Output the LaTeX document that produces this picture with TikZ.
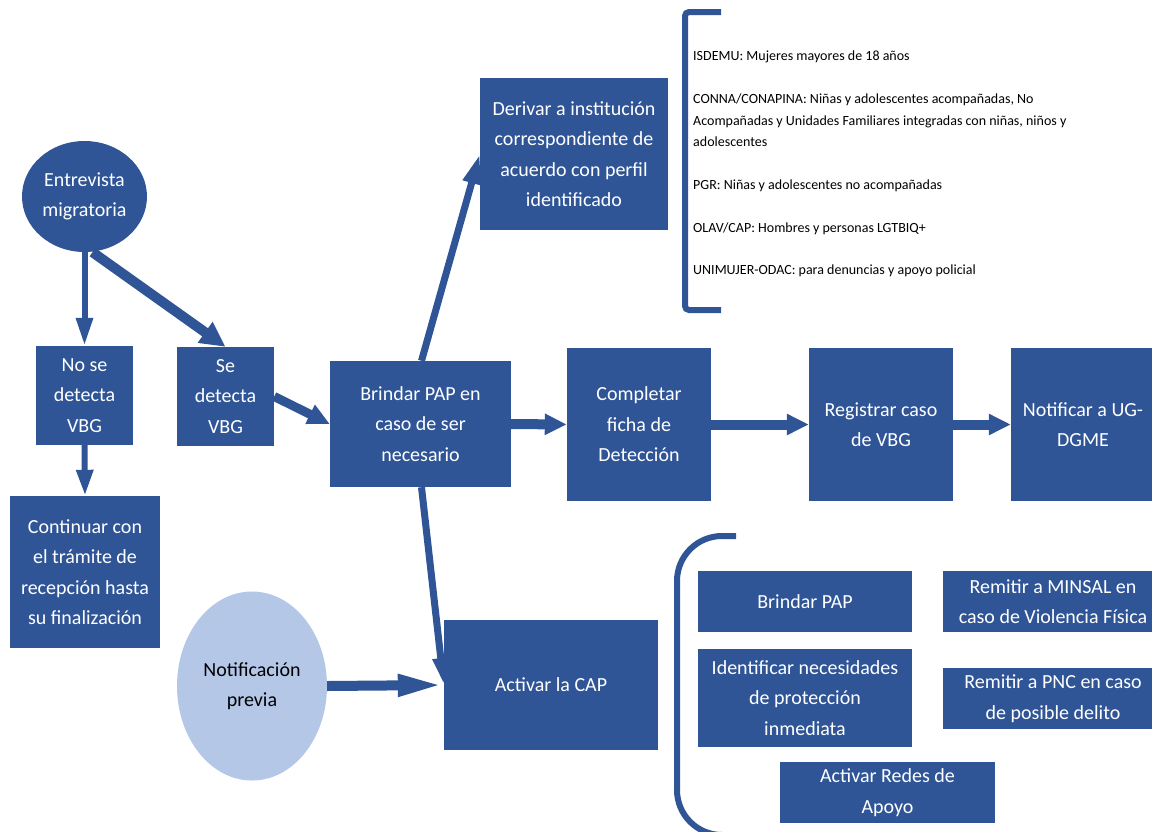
\documentclass[tikz,border=0pt]{standalone}
\usepackage{fontspec}
\setmainfont{Carlito}
\usetikzlibrary{shapes.geometric,arrows.meta}
\definecolor{azulcap}{HTML}{2F5597}
\definecolor{celeste}{HTML}{B4C7E7}
\newcommand{\cajafont}{\fontsize{20}{30.5}\selectfont}
\newcommand{\listafont}{\fontsize{14}{21.4}\selectfont}
\tikzset{
  caja/.style={fill=azulcap,text=white,inner sep=0pt,align=center,font=\cajafont},
  globo/.style={ellipse,inner sep=0pt,align=center,font=\cajafont},
  flecha/.style={draw=azulcap,line width=10pt,-{Triangle[length=22pt,width=20pt]}},
  corchete/.style={draw=azulcap,line width=6pt}
}

\begin{document}
\begin{tikzpicture}[x=1pt,y=-1pt]
\useasboundingbox (0,0) rectangle (1152,831);
\clip (0,0) rectangle (1152,831);

\node[globo,fill=azulcap,text=white,minimum width=125pt,minimum height=111pt] (entre) at (84.5,196.5) {Entrevista\\migratoria};
\node[caja,minimum width=97pt,minimum height=99pt] (nose) at (84.5,395.5) {No se\\detecta\\VBG};
\node[caja,minimum width=97pt,minimum height=99pt] (se) at (225.5,396.5) {Se\\detecta\\VBG};
\node[caja,minimum width=150pt,minimum height=152pt] (cont) at (85,572) {Continuar con\\el trámite de\\recepción hasta\\su finalización};
\node[globo,fill=celeste,text=black,minimum width=150pt,minimum height=189pt] (previa) at (252,686) {Notificación\\previa};
\node[caja,minimum width=181pt,minimum height=126pt] (brin) at (420.5,424) {Brindar PAP en\\caso de ser\\necesario};
\node[caja,minimum width=188pt,minimum height=152pt] (deriv) at (574,154) {Derivar a institución\\correspondiente de\\acuerdo con perfil\\identificado};
\node[caja,minimum width=214pt,minimum height=130pt] (cap) at (551,685) {Activar la CAP};
\node[caja,minimum width=144pt,minimum height=153pt] (comp) at (639,424.5) {Completar\\ficha de\\Detección};
\node[caja,minimum width=144pt,minimum height=153pt] (reg) at (881,424.5) {Registrar caso\\de VBG};
\node[caja,minimum width=144pt,minimum height=153pt] (notif) at (1083,424.5) {Notificar a UG-\\DGME};

\node[caja,minimum width=214pt,minimum height=61pt] (pap) at (805,601.5) {Brindar PAP};
\node[caja,minimum width=220pt,minimum height=61pt] (minsal) at (1053,601.5) {Remitir a MINSAL en\\caso de Violencia Física};
\node[caja,minimum width=214pt,minimum height=98pt] (ident) at (805,698) {Identificar necesidades\\de protección\\inmediata};
\node[caja,minimum width=220pt,minimum height=61pt] (pnc) at (1053,698.5) {Remitir a PNC en caso\\de posible delito};
\node[caja,minimum width=215pt,minimum height=61pt] (redes) at (887.5,792.5) {Activar Redes de\\Apoyo};

\node[anchor=north west,inner sep=0pt,align=left,font=\listafont] (lista) at (693,51) {ISDEMU: Mujeres mayores de 18 años\\[21.4pt]
CONNA/CONAPINA: Niñas y adolescentes acompañadas, No\\
Acompañadas y Unidades Familiares integradas con niñas, niños y\\
adolescentes\\[21.4pt]
PGR: Niñas y adolescentes no acompañadas\\[21.4pt]
OLAV/CAP: Hombres y personas LGTBIQ+\\[21.4pt]
UNIMUJER-ODAC: para denuncias y apoyo policial};

\draw[corchete,rounded corners=4pt] (721,12) -- (685,12) -- (685,310) -- (721,310);
\draw[corchete,rounded corners=45pt] (736,536) -- (677,536) -- (677,835) -- (736,835);

\draw[flecha,line width=6pt,-{Triangle[length=28pt,width=16pt]}] (entre.south) -- (nose.north);
\draw[flecha,-{Triangle[length=25pt,width=24pt]}] ([xshift=8pt]entre.south) -- (se.north);
\draw[flecha,line width=6pt,-{Triangle[length=26pt,width=16pt]}] (nose.south) -- (cont.north);
\draw[flecha,line width=9pt] (se.east) -- (brin.west);
\draw[flecha,line width=7pt,-{Triangle[length=30pt,width=17pt]}] ([xshift=1pt]brin.north) -- (deriv.west);
\draw[flecha,line width=7pt,-{Triangle[length=27pt,width=15pt]}] ([xshift=1pt]brin.south) -- (cap.west);
\draw[flecha,-{Triangle[length=46pt,width=20pt]}] (previa.east) -- (cap.west);
\draw[flecha] (brin.east) -- (comp.west);
\draw[flecha] (comp.east) -- (reg.west);
\draw[flecha] (reg.east) -- (notif.west);
\end{tikzpicture}
\end{document}
